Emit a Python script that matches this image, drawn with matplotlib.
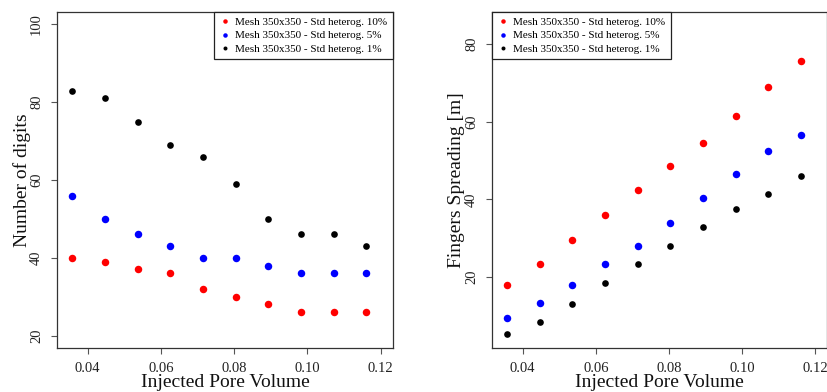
import matplotlib
matplotlib.use("Agg")
import matplotlib.pyplot as plt

plt.rcParams['font.family'] = ['Liberation Serif', 'DejaVu Serif']

pore_volume = [0.0358, 0.0447, 0.0536, 0.0626, 0.0715, 0.0804, 0.0893, 0.0983, 0.1072, 0.1161]

digits_10 = [40, 39, 37, 36, 32, 30, 28, 26, 26, 26]
digits_5 = [56, 50, 46, 43, 40, 40, 38, 36, 36, 36]
digits_1 = [83, 81, 75, 69, 66, 59, 50, 46, 46, 43]

spread_10 = [18, 23.5, 29.5, 36, 42.5, 48.5, 54.5, 61.5, 69, 75.5]
spread_5 = [9.5, 13.5, 18, 23.5, 28, 34, 40.5, 46.5, 52.5, 56.5]
spread_1 = [5.5, 8.5, 13, 18.5, 23.5, 28, 33, 37.5, 41.5, 46]

labels = ["Mesh 350x350 - Std heterog. 10%",
          "Mesh 350x350 - Std heterog. 5%",
          "Mesh 350x350 - Std heterog. 1%"]
colors = ["#ff0000", "#0000ff", "#000000"]
sizes = [5.4, 5.4, 4.8]

x_ticks = [0.04, 0.06, 0.08, 0.10, 0.12]
x_ticklabels = ["0.04", "0.06", "0.08", "0.10", "0.12"]


def r_limits(lo, hi):
    pad = (hi - lo) * 0.04
    return lo - pad, hi + pad


fig = plt.figure(figsize=(8.28, 3.92), dpi=100)
ax1 = fig.add_axes([57 / 828, 1 - 348 / 392, 336 / 828, 336 / 392])
ax2 = fig.add_axes([492 / 828, 1 - 348 / 392, 335.5 / 828, 336 / 392])

panels = [
    (ax1, [digits_10, digits_5, digits_1], (20, 100), [20, 40, 60, 80, 100],
     "Number of digits", "upper right"),
    (ax2, [spread_10, spread_5, spread_1], (5, 85), [20, 40, 60, 80],
     "Fingers Spreading [m]", "upper left"),
]

for ax, series, ylim, yticks, ylabel, loc in panels:
    for vals, c, s, lab in zip(series, colors, sizes, labels):
        ax.plot(pore_volume, vals, linestyle="none", marker="o", ms=s,
                mfc=c, mec=c, mew=0, label=lab)
    ax.set_xlim(*r_limits(0.035, 0.12))
    ax.set_ylim(*r_limits(*ylim))
    ax.set_xticks(x_ticks)
    ax.set_xticklabels(x_ticklabels)
    ax.set_yticks(yticks)
    ax.set_yticklabels([str(t) for t in yticks], rotation=90, va="center")
    ax.tick_params(axis="both", direction="out", length=4, width=0.8,
                   color="#555555", labelcolor="#222222", labelsize=10.5, pad=6)
    for sp in ax.spines.values():
        sp.set_color("#333333")
        sp.set_linewidth(0.9)
    ax.set_xlabel("Injected Pore Volume", fontsize=14, color="#111111",
                  va="center")
    ax.set_ylabel(ylabel, fontsize=14, color="#111111", va="center")
    ax.xaxis.set_label_coords(0.5, -0.102)
    ax.yaxis.set_label_coords(-0.105, 0.5)
    leg = ax.legend(loc=loc, borderaxespad=0, fancybox=False, framealpha=1,
                    edgecolor="#222222", fontsize=8, markerscale=0.6,
                    handlelength=0.9, handletextpad=0.5, labelspacing=0.3,
                    borderpad=0.5)
    leg.get_frame().set_linewidth(0.9)

fig.savefig("out.png", dpi=100)
